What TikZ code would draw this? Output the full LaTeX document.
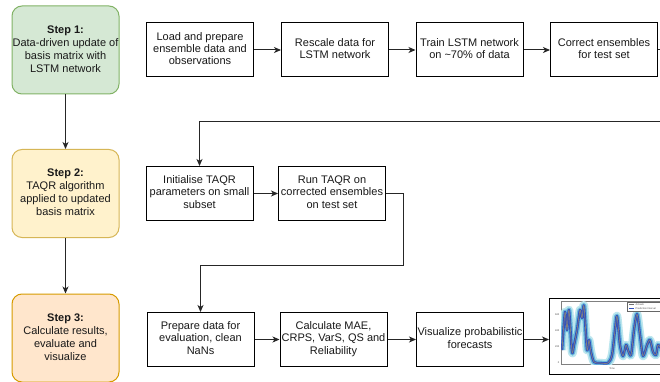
\documentclass[tikz,border=0pt]{standalone}
\usepackage{fontspec}
\setmainfont{Liberation Sans}
\usetikzlibrary{arrows.meta}
\definecolor{g1f}{HTML}{D5E8D4}\definecolor{g1d}{HTML}{82B366}
\definecolor{y1f}{HTML}{FFF2CC}\definecolor{y1d}{HTML}{D6B656}
\definecolor{o1f}{HTML}{FFE6CC}\definecolor{o1d}{HTML}{D79B00}
\definecolor{band1}{HTML}{BCE6EE}\definecolor{band2}{HTML}{6BBADB}
\definecolor{band3}{HTML}{2F4FC0}
\newcommand{\mlines}[1]{\begin{tabular}{@{}c@{}}#1\end{tabular}}
\begin{document}
\begin{tikzpicture}[x=1pt,y=-1pt,
  stepbox/.style={draw, line width=1pt, rounded corners=10pt, minimum width=107pt, minimum height=88pt, inner sep=0pt, text=black!90, font=\fontsize{11}{13}\selectfont},
  procbox/.style={draw=black, line width=1pt, minimum width=107pt, minimum height=54pt, inner sep=0pt, text=black!90, font=\fontsize{11}{12.4}\selectfont},
  conn/.style={line width=1pt, draw=black!85, -{Stealth[length=7pt,width=6pt,inset=2pt]}},
  tiny/.style={font=\fontsize{2.5}{3}\selectfont, text=black!70, inner sep=0pt}]
\useasboundingbox (0,0) rectangle (660,382);
\clip (0,0) rectangle (660,382);
\fill[white] (0,0) rectangle (660,382);

% step boxes
\node[stepbox, fill=g1f, draw=g1d] (s1) at (65.5,50) {\mlines{\textbf{Step 1:}\\Data-driven update of\\basis matrix with\\LSTM network}};
\node[stepbox, fill=y1f, draw=y1d] (s2) at (65.5,193.5) {\mlines{\textbf{Step 2:}\\TAQR algorithm\\applied to updated\\basis matrix}};
\node[stepbox, fill=o1f, draw=o1d] (s3) at (65.5,338) {\mlines{\textbf{Step 3:}\\Calculate results,\\evaluate and\\visualize}};
\draw[conn] (s1) -- (s2);
\draw[conn] (s2) -- (s3);

% row 1
\node[procbox] (a1) at (200,50) {\mlines{Load and prepare\\ensemble data and\\observations}};
\node[procbox] (a2) at (335,50) {\mlines{Rescale data for\\LSTM network}};
\node[procbox] (a3) at (469.5,50) {\mlines{Train LSTM network\\on \textasciitilde70\% of data}};
\node[procbox] (a4) at (604,50) {\mlines{Correct ensembles\\for test set}};
\draw[conn] (a1) -- (a2);
\draw[conn] (a2) -- (a3);
\draw[conn] (a3) -- (a4);

% row 2
\node[procbox] (b1) at (199.5,193.5) {\mlines{Initialise TAQR\\parameters on small\\subset}};
\node[procbox] (b2) at (332,193.5) {\mlines{Run TAQR on\\corrected ensembles\\on test set}};
\draw[conn] (b1) -- (b2);
\coordinate (c1) at (675,50);
\coordinate (c2) at (675,122);
\coordinate (c3) at (b1.north |- c2);
\draw[conn] (a4.east) -- (c1) -- (c2) -- (c3) -- (b1.north);

% row 3
\node[procbox] (d1) at (200.5,339.5) {\mlines{Prepare data for\\evaluation, clean\\NaNs}};
\node[procbox] (d2) at (333.5,339.5) {\mlines{Calculate MAE,\\CRPS, VarS, QS and\\Reliability}};
\node[procbox] (d3) at (470,339.5) {\mlines{Visualize probabilistic\\forecasts}};
\coordinate (e1) at (403,193.5);
\coordinate (e2) at (403,265);
\coordinate (e3) at (d1.north |- e2);
\draw[conn] (b2.east) -- (e1) -- (e2) -- (e3) -- (d1.north);
\draw[conn] (d1) -- (d2);
\draw[conn] (d2) -- (d3);

% plot thumbnail
\node[draw=black, line width=1pt, fill=white, minimum width=130pt, minimum height=76pt, inner sep=0pt, anchor=north west] (pl) at (549,298) {};
\draw[conn] (d3.east) -- (pl.west |- d3.east);
\draw[black!50, line width=0.4pt] (561,301) rectangle (670,364);
\begin{scope}
\clip (561,301) rectangle (670,364);
\def\curve{plot[smooth, tension=0.45] coordinates {(562,350) (565,312) (567,330) (569,310) (572,352) (574,345) (577,330) (580,310) (582,318) (584,306) (587,350) (589,340) (591,352) (594,362) (600,363) (608,363) (612,355) (615,330) (617,316) (620,345) (623,356) (626,345) (628,350) (631,355) (634,330) (637,314) (640,335) (643,356) (647,345) (650,340) (653,352) (656,355) (658,345) (662,350)}}
\draw[band1, line width=8.5pt, line join=round] \curve;
\draw[band2, line width=5pt, line join=round] \curve;
\draw[band3, line width=2.4pt, line join=round] \curve;
\draw[black!50, line width=0.7pt, line join=round] \curve;
\end{scope}
\foreach \yy/\lab in {363/0, 347/200, 331/400, 315/600} {
  \node[tiny, anchor=east] at (559.5,\yy) {\lab};
}
\node[tiny] (tl) at (612,369) {Time};
\draw[black!60, line width=0.3pt, fill=white] (627,302) rectangle (670,311);
\draw[black!55, line width=1pt] (629,304.5) -- (634,304.5);
\draw[band3, line width=1pt] (629,308.5) -- (634,308.5);
\node[tiny, anchor=west] (lg1) at (635.5,304.5) {Actuals};
\node[tiny, anchor=west] (lg2) at (635.5,308.5) {Prediction Interval};
\end{tikzpicture}
\end{document}
